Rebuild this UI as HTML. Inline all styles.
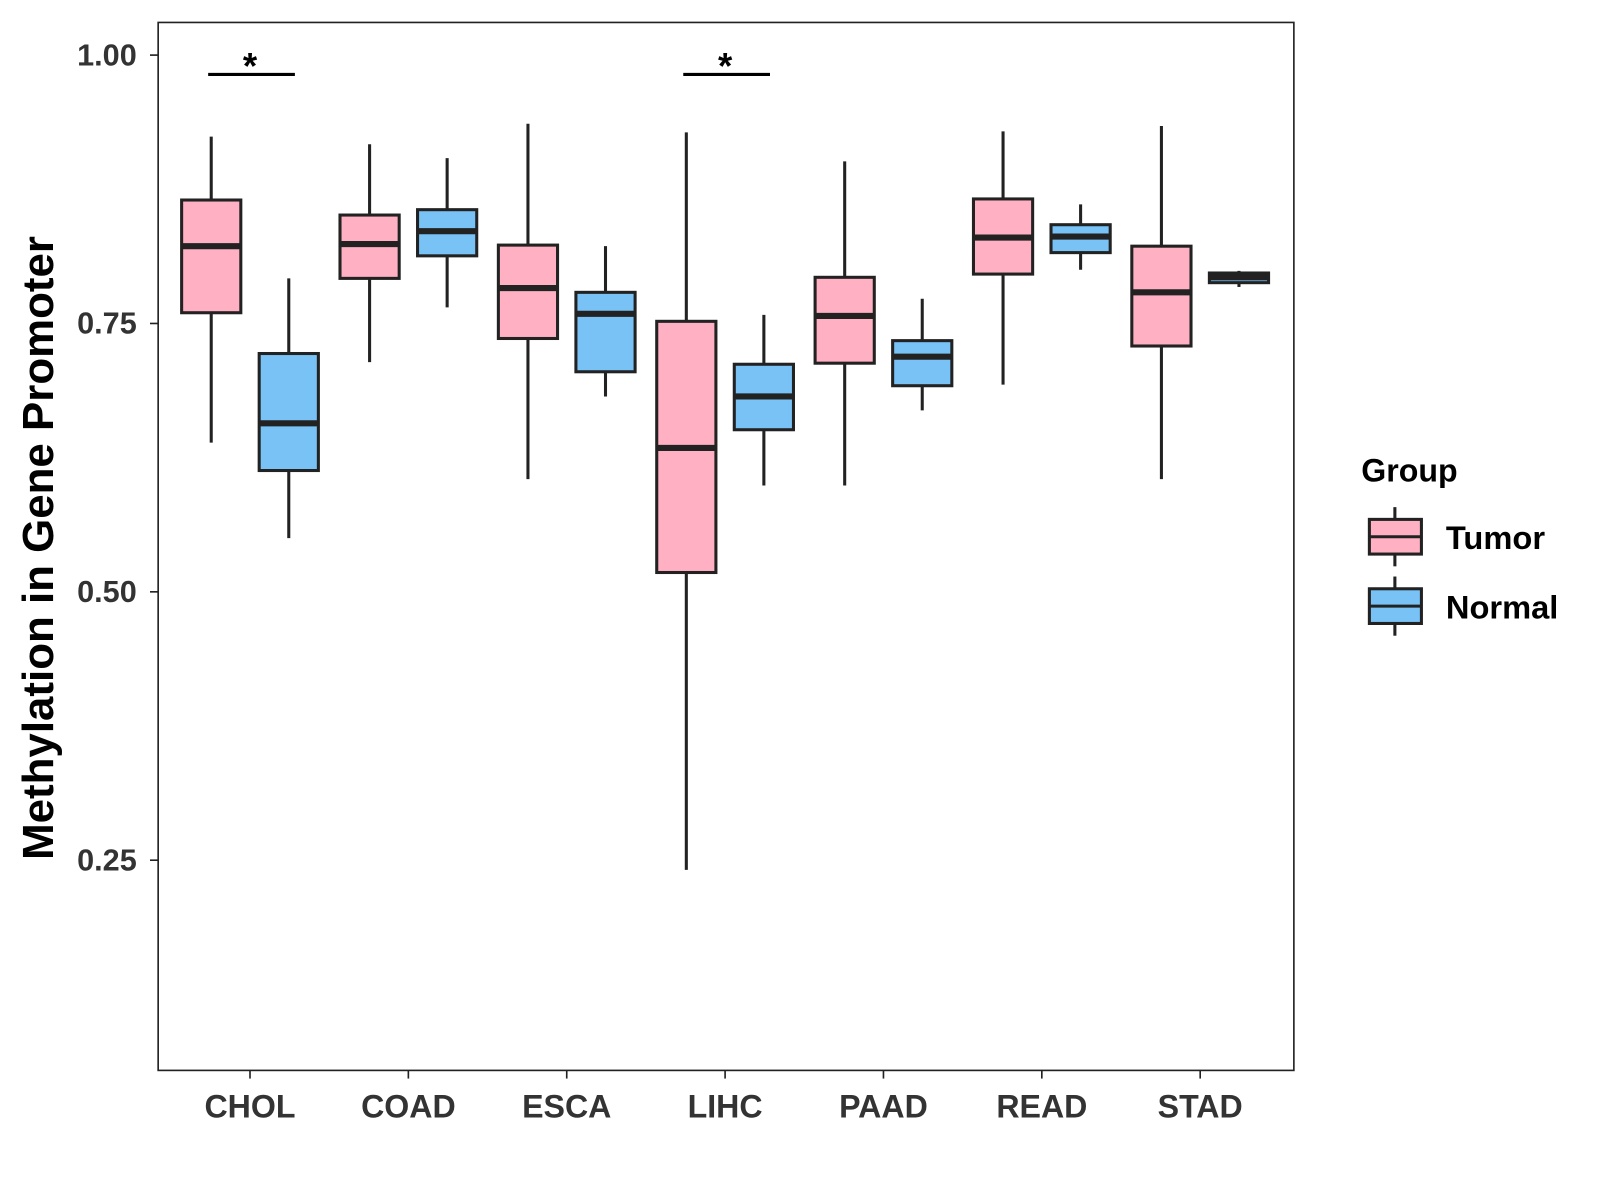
<!DOCTYPE html>
<html><head><meta charset="utf-8"><style>
html,body{margin:0;padding:0;background:#fff;}
svg{display:block;font-family:"Liberation Sans",Arial,sans-serif;}
</style></head><body>
<svg id="chart" width="1600" height="1200" viewBox="0 0 1600 1200" xmlns="http://www.w3.org/2000/svg">
<rect x="0" y="0" width="1600" height="1200" fill="#fff"/>
<g transform="scale(1.0204)">
<rect x="155" y="22" width="1113" height="1027" fill="none" stroke="#222" stroke-width="1.6"/>
<g id="marks"></g>
<g id="axes"></g>
<text x="0" y="0" transform="translate(52,537) rotate(-90)" text-anchor="middle" font-size="43" font-weight="bold" fill="#000">Methylation in Gene Promoter</text>
<g>
<text x="1334" y="472" font-size="31.5" font-weight="bold" fill="#000">Group</text>
<g>
<line x1="1367" y1="497" x2="1367" y2="555" stroke="#222" stroke-width="3"/>
<rect x="1342" y="509" width="51" height="34" fill="#FFB0C2" stroke="#222" stroke-width="3"/>
<line x1="1342" y1="526" x2="1393" y2="526" stroke="#222" stroke-width="3"/>
<text x="1417" y="538" font-size="32" font-weight="bold" fill="#000">Tumor</text>
</g>
<g>
<line x1="1367" y1="565" x2="1367" y2="623" stroke="#222" stroke-width="3"/>
<rect x="1342" y="577" width="51" height="34" fill="#78C2F6" stroke="#222" stroke-width="3"/>
<line x1="1342" y1="594" x2="1393" y2="594" stroke="#222" stroke-width="3"/>
<text x="1417" y="606" font-size="32" font-weight="bold" fill="#000">Normal</text>
</g>
</g>
</g>
</svg>
<script>
const categories = ["CHOL","COAD","ESCA","LIHC","PAAD","READ","STAD"];
// [low, q1, median, q3, high]
const tumorStats = [
 [0.639,0.760,0.822,0.865,0.924],
 [0.714,0.792,0.824,0.851,0.917],
 [0.605,0.736,0.783,0.823,0.936],
 [0.241,0.518,0.634,0.752,0.928],
 [0.599,0.713,0.757,0.793,0.901],
 [0.693,0.796,0.830,0.866,0.929],
 [0.605,0.729,0.779,0.822,0.934]
];
const normalStats = [
 [0.550,0.613,0.657,0.722,0.792],
 [0.765,0.813,0.836,0.856,0.904],
 [0.682,0.705,0.759,0.779,0.822],
 [0.599,0.651,0.682,0.712,0.758],
 [0.669,0.692,0.719,0.734,0.773],
 [0.800,0.816,0.831,0.842,0.861],
 [0.784,0.788,0.793,0.797,0.799]
];
const yTicks = [0.25,0.50,0.75,1.00];
const yTickLabels = ["0.25","0.50","0.75","1.00"];
const sigCategories = ["CHOL","LIHC"];
const sigLevel = 0.982;

const NS="http://www.w3.org/2000/svg";
function y(v){return 54+(1-v)*1052;}
function x(i){return 245+i*155.2;}
function mk(tag,attrs,parent){const e=document.createElementNS(NS,tag);for(const k in attrs)e.setAttribute(k,attrs[k]);parent.appendChild(e);return e;}
const marks=document.getElementById('marks'), axes=document.getElementById('axes');
function drawBox(cx,s,fill,name){
 const g=mk('g',{},marks);
 
 
 mk('line',{x1:cx,x2:cx,y1:y(s[4]),y2:y(s[0]),stroke:'#222','stroke-width':3},g);
 mk('rect',{x:cx-29,width:58,y:y(s[3]),height:Math.max(y(s[1])-y(s[3]),1),fill:fill,stroke:'#222','stroke-width':3},g);
 mk('line',{x1:cx-29,x2:cx+29,y1:y(s[2]),y2:y(s[2]),stroke:'#222','stroke-width':6},g);
}
categories.forEach((c,i)=>{
 drawBox(x(i)-38,tumorStats[i],'#FFB0C2','box-tumor-'+c.toLowerCase());
 drawBox(x(i)+38,normalStats[i],'#78C2F6','box-normal-'+c.toLowerCase());
 mk('line',{x1:x(i),x2:x(i),y1:1049,y2:1057,stroke:'#222','stroke-width':1.6},axes);
 const t=mk('text',{x:x(i),y:1095,'text-anchor':'middle','font-size':31.5,'font-weight':'bold',fill:'#333'},axes);
 t.textContent=c;
 
 
});
yTicks.forEach((v,i)=>{
 mk('line',{x1:147,x2:155,y1:y(v),y2:y(v),stroke:'#222','stroke-width':1.6},axes);
 const t=mk('text',{x:134,y:y(v)+10,'text-anchor':'end','font-size':30,'font-weight':'bold',fill:'#333'},axes);
 t.textContent=yTickLabels[i];
 
 
});
sigCategories.forEach(c=>{
 const i=categories.indexOf(c);
 const g=mk('g',{},marks);
 
 
 mk('line',{x1:x(i)-41,x2:x(i)+44,y1:y(sigLevel),y2:y(sigLevel),stroke:'#000','stroke-width':3},g);
 const t=mk('text',{x:x(i),y:y(sigLevel)+4,'text-anchor':'middle','font-size':36,'font-weight':'bold',fill:'#000'},g);
 t.textContent='*';
});
</script>
</body></html>
